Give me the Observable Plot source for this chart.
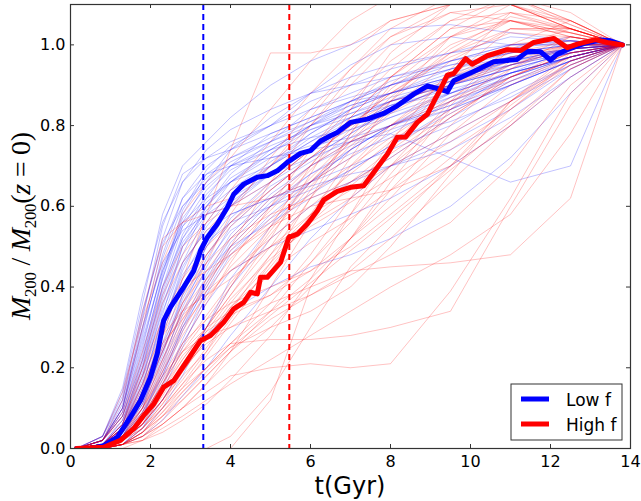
<!DOCTYPE html>
<html>
<head>
<meta charset="utf-8">
<script src="https://cdn.jsdelivr.net/npm/d3@7"></script>
<script src="https://cdn.jsdelivr.net/npm/@observablehq/plot@0.6"></script>
<style>
  html, body { margin: 0; padding: 0; background: #fff; }
  #chart { width: 641px; height: 501px; }
</style>
</head>
<body>
<div id="chart"></div>
<script>
// ---------- data ----------
const xTicks = [0, 2, 4, 6, 8, 10, 12, 14];
const yTicks = [0.0, 0.2, 0.4, 0.6, 0.8, 1.0];
const seriesNames = ["Low f", "High f"];
const seriesColors = ["blue", "red"];
const medianTimes = [3.32, 5.47]; // dashed verticals (Low f, High f)

// thick median curves
const lowMedT = [0.15,0.5,0.83,1.17,1.5,1.75,2.0,2.17,2.33,2.5,2.83,3.08,3.25,3.42,3.67,3.92,4.08,4.33,4.67,4.92,5.17,5.42,5.75,6.0,6.25,6.5,6.67,7.0,7.42,7.83,8.17,8.58,8.92,9.17,9.42,9.58,10.08,10.58,11.17,11.42,11.75,12.0,12.17,12.42,12.83,13.25,13.5,13.8];
const lowMedY = [0,0,0.007,0.028,0.078,0.119,0.177,0.235,0.317,0.35,0.40,0.44,0.49,0.523,0.556,0.597,0.63,0.655,0.672,0.676,0.688,0.709,0.731,0.738,0.762,0.775,0.783,0.808,0.816,0.830,0.849,0.878,0.898,0.892,0.884,0.911,0.934,0.958,0.964,0.984,0.983,0.962,0.977,0.988,1.003,1.012,1.01,1.0];
const highMedT = [0.15,0.83,1.25,1.58,1.83,2.08,2.33,2.58,2.92,3.25,3.5,3.83,4.08,4.33,4.5,4.67,4.75,4.92,5.25,5.46,5.67,5.92,6.17,6.33,6.67,7.0,7.33,7.67,7.92,8.17,8.38,8.67,8.92,9.12,9.25,9.42,9.58,9.88,10.04,10.42,10.92,11.25,11.58,12.08,12.42,12.67,13.12,13.42,13.8];
const highMedY = [0,0.003,0.02,0.049,0.082,0.11,0.152,0.168,0.218,0.267,0.28,0.313,0.346,0.362,0.387,0.383,0.424,0.424,0.461,0.523,0.531,0.556,0.589,0.616,0.637,0.647,0.651,0.696,0.729,0.771,0.772,0.808,0.828,0.866,0.89,0.925,0.929,0.966,0.952,0.973,0.988,0.986,1.006,1.016,0.993,1.002,1.013,1.006,1.0];

// thin individual histories, sampled at these times
const thinT = [0.15,0.8,1.3,1.8,2.3,2.8,3.4,4.0,5.0,6.0,7.0,8.0,9.5,11.0,12.5,13.8];
const lowRuns = [
  [0,0,.03,.12,.30,.45,.55,.62,.70,.76,.82,.86,.92,.96,.98,1],
  [0,.01,.06,.20,.40,.55,.64,.70,.74,.80,.85,.88,.93,.97,.99,1],
  [0,0,.02,.08,.20,.33,.45,.55,.64,.72,.78,.84,.90,.95,.98,1],
  [0,.02,.10,.28,.48,.62,.70,.74,.78,.82,.86,.90,.94,.97,.99,1],
  [0,0,.01,.05,.14,.25,.38,.48,.58,.66,.74,.80,.87,.93,.97,1],
  [0,.01,.05,.15,.33,.50,.58,.60,.66,.72,.78,.84,.90,.94,.98,1],
  [0,.03,.12,.33,.52,.66,.74,.79,.84,.88,.90,.92,.95,.98,1.0,1],
  [0,0,.02,.10,.25,.38,.50,.58,.62,.66,.70,.74,.80,.88,.95,1],
  [0,.01,.04,.14,.30,.44,.56,.64,.71,.78,.84,.90,.96,1.0,1.01,1],
  [0,0,.03,.09,.18,.30,.42,.52,.62,.70,.76,.80,.84,.90,.96,1],
  [0,.02,.08,.22,.42,.58,.68,.72,.76,.80,.83,.86,.90,.94,.98,1],
  [0,0,.01,.04,.10,.18,.30,.40,.52,.60,.66,.72,.82,.90,.96,1],
  [0,.01,.05,.18,.36,.48,.60,.68,.76,.84,.88,.92,.96,.99,1.01,1],
  [0,.02,.09,.25,.45,.56,.62,.66,.72,.75,.77,.80,.85,.92,.97,1],
  [0,0,.02,.07,.16,.26,.36,.44,.50,.54,.58,.62,.70,.80,.92,1],
  [0,.01,.07,.20,.38,.52,.62,.70,.78,.82,.86,.88,.92,.95,.99,1],
  [0,.03,.15,.38,.56,.66,.72,.76,.80,.86,.90,.94,.98,1.02,1.01,1],
  [0,0,.03,.12,.26,.40,.52,.60,.68,.74,.80,.85,.88,.93,.97,1],
  [0,.01,.04,.12,.24,.36,.46,.54,.60,.66,.72,.78,.86,.92,.97,1],
  [0,0,.02,.06,.12,.20,.30,.42,.55,.66,.74,.80,.86,.91,.96,1],
  [0,.02,.10,.30,.50,.62,.68,.70,.72,.74,.76,.78,.72,.66,.70,1],
  [0,.01,.06,.18,.34,.46,.54,.58,.62,.65,.68,.70,.74,.82,.92,1],
  [0,0,.01,.05,.12,.20,.28,.34,.40,.45,.48,.52,.60,.72,.88,1],
  [0,.02,.08,.24,.42,.56,.66,.74,.82,.88,.92,.95,.98,1.0,1.0,1],
  [0,.01,.03,.10,.22,.34,.44,.50,.56,.62,.66,.70,.76,.84,.94,1],
  [0,0,.02,.08,.18,.30,.40,.50,.60,.68,.74,.80,.88,.95,.99,1],
  [0,.01,.05,.16,.32,.46,.58,.66,.74,.80,.84,.88,.92,.97,.99,1],
  [0,.02,.12,.30,.46,.54,.58,.62,.68,.72,.76,.80,.85,.90,.96,1],
  [0,0,.01,.03,.07,.13,.20,.28,.40,.52,.62,.70,.78,.86,.94,1],
  [0,.01,.06,.22,.40,.52,.60,.66,.70,.78,.84,.88,.94,.99,1.02,1],
  [0,.03,.14,.36,.58,.70,.76,.82,.90,.96,1.0,1.04,1.05,1.03,1.01,1],
  [0,.02,.10,.32,.55,.68,.72,.74,.80,.88,.95,1.0,1.02,1.0,1.0,1],
  [0,.01,.05,.17,.35,.50,.60,.67,.73,.79,.83,.87,.91,.95,.98,1],
  [0,.02,.09,.26,.44,.57,.65,.70,.75,.79,.82,.85,.89,.93,.97,1],
  [0,0,.03,.11,.24,.37,.48,.56,.65,.71,.77,.82,.88,.93,.97,1],
  [0,.01,.06,.19,.37,.51,.59,.64,.70,.76,.81,.86,.91,.96,.99,1],
  [0,.02,.11,.29,.47,.60,.67,.72,.77,.81,.85,.88,.92,.96,.99,1],
  [0,0,.02,.09,.21,.35,.47,.57,.66,.74,.80,.85,.91,.96,.99,1],
  [0,.01,.04,.13,.28,.42,.53,.61,.68,.74,.79,.83,.88,.93,.97,1],
  [0,.03,.13,.34,.51,.60,.66,.71,.76,.81,.86,.90,.95,.98,1.0,1],
  [0,0,.02,.08,.19,.31,.43,.53,.63,.70,.75,.79,.84,.90,.96,1],
  [0,.01,.07,.21,.39,.53,.63,.69,.74,.77,.79,.82,.87,.92,.97,1],
  [0,.02,.08,.23,.43,.59,.69,.75,.80,.84,.87,.90,.94,.98,1.0,1],
  [0,0,.01,.06,.15,.27,.39,.49,.57,.63,.69,.75,.83,.91,.97,1],
  [0,.01,.05,.16,.31,.43,.51,.56,.60,.64,.69,.75,.84,.93,.99,1],
  [0,.02,.10,.27,.44,.55,.61,.66,.73,.80,.86,.91,.96,1.0,1.01,1],
  [0,0,.02,.07,.17,.29,.41,.51,.61,.68,.73,.77,.81,.87,.95,1],
  [0,.01,.04,.11,.23,.38,.50,.60,.70,.77,.82,.86,.90,.94,.98,1]
];
const highRuns = [
  [0,0,.02,.06,.12,.20,.28,.36,.48,.58,.66,.74,.84,.92,.98,1],
  [0,0,.01,.03,.08,.14,.20,.26,.34,.42,.52,.62,.78,.90,.97,1],
  [0,.01,.05,.16,.30,.40,.48,.55,.64,.72,.80,.88,.98,1.04,1.03,1],
  [0,0,.02,.08,.18,.26,.32,.36,.40,.44,.50,.58,.70,.84,.96,1],
  [0,.02,.10,.30,.50,.56,.60,.62,.70,.80,.90,1.0,1.08,1.1,1.05,1],
  [0,0,0,.02,.06,.10,.16,.22,.30,.40,.52,.66,.84,.96,1.02,1],
  [0,.01,.04,.12,.22,.32,.42,.50,.60,.70,.82,.92,1.04,1.12,1.08,1],
  [0,0,.01,.04,.10,.16,.22,.26,.27,.27,.28,.30,.34,.60,.85,1],
  [0,0,.01,.03,.06,.10,.14,.18,.20,.21,.20,.21,.39,.62,.88,1],
  [0,0,0,0,0,0,0,.03,.14,.30,.45,.55,.70,.86,.97,1],
  [0,0,0,0,0,0,0,0,.12,.40,.52,.60,.72,.85,.96,1],
  [0,.01,.06,.20,.36,.46,.54,.60,.70,.82,.94,1.04,1.12,1.12,1.05,1],
  [0,0,.02,.08,.16,.24,.32,.40,.54,.66,.76,.84,.92,.98,1.01,1],
  [0,.02,.12,.34,.52,.56,.58,.60,.62,.66,.72,.80,.90,.96,1.0,1],
  [0,0,.01,.04,.08,.12,.18,.24,.34,.46,.58,.70,.86,1.0,1.06,1],
  [0,.01,.03,.10,.20,.30,.38,.44,.52,.60,.68,.76,.86,.94,1.0,1],
  [0,0,.02,.06,.14,.22,.30,.38,.50,.64,.78,.90,1.02,1.08,1.04,1],
  [0,.02,.08,.22,.38,.48,.56,.64,.76,.88,.98,1.06,1.1,1.1,1.04,1],
  [0,0,.01,.02,.05,.08,.12,.16,.22,.28,.34,.40,.48,.58,.78,1],
  [0,0,.02,.07,.14,.20,.26,.30,.36,.40,.44,.45,.46,.48,.62,1],
  [0,.01,.05,.14,.26,.36,.44,.52,.62,.70,.76,.80,.86,.92,.98,1],
  [0,0,.01,.05,.10,.16,.24,.34,.48,.62,.74,.84,.96,1.04,1.04,1],
  [0,.01,.04,.10,.18,.24,.28,.30,.34,.38,.44,.52,.66,.80,.94,1],
  [0,0,.03,.10,.22,.34,.46,.58,.72,.84,.94,1.02,1.08,1.06,1.02,1],
  [0,.02,.07,.18,.28,.34,.38,.42,.50,.58,.64,.70,.78,.86,.95,1],
  [0,0,.01,.03,.06,.10,.16,.24,.40,.56,.70,.80,.92,1.0,1.02,1],
  [0,.01,.06,.16,.26,.32,.40,.50,.66,.80,.92,1.02,1.1,1.12,1.06,1],
  [0,0,.02,.05,.10,.15,.20,.25,.30,.34,.40,.50,.68,.86,.98,1],
  [0,.01,.04,.12,.24,.36,.48,.56,.66,.74,.80,.86,.90,.95,.99,1],
  [0,0,.02,.08,.16,.24,.30,.34,.38,.44,.52,.64,.80,.94,1.02,1],
  [0,.03,.14,.32,.46,.58,.66,.72,.84,.96,1.06,1.12,1.12,1.1,1.04,1],
  [0,0,.01,.04,.09,.14,.20,.26,.36,.48,.62,.76,.94,1.08,1.06,1],
  [0,.01,.05,.13,.24,.34,.42,.48,.55,.60,.62,.64,.70,.80,.92,1],
  [0,0,.02,.06,.12,.18,.24,.32,.46,.62,.78,.92,1.04,1.06,1.03,1],
  [0,.01,.03,.08,.15,.22,.30,.38,.52,.68,.84,.98,1.1,1.1,1.04,1],
  [0,.01,.04,.14,.28,.42,.58,.74,.98,.98,1.0,1.06,1.1,1.1,1.04,1],
  [0,0,.01,.05,.11,.19,.27,.35,.46,.56,.65,.73,.83,.91,.97,1],
  [0,.01,.03,.09,.17,.25,.33,.41,.53,.65,.75,.83,.91,.97,1.0,1],
  [0,0,.02,.07,.15,.23,.29,.33,.38,.46,.56,.68,.85,.99,1.04,1],
  [0,.01,.05,.15,.28,.38,.46,.52,.58,.62,.66,.72,.82,.92,.98,1],
  [0,0,.01,.04,.09,.15,.23,.31,.44,.58,.72,.86,1.02,1.1,1.06,1],
  [0,.02,.09,.24,.40,.50,.56,.60,.66,.74,.84,.94,1.06,1.12,1.06,1],
  [0,0,.02,.06,.13,.21,.29,.37,.47,.55,.61,.67,.76,.86,.96,1],
  [0,.01,.04,.11,.21,.31,.41,.49,.59,.69,.79,.89,1.0,1.06,1.03,1],
  [0,0,.01,.03,.07,.12,.18,.24,.32,.38,.43,.48,.56,.70,.90,1],
  [0,.01,.06,.18,.32,.42,.50,.56,.64,.72,.80,.88,.97,1.03,1.02,1],
  [0,0,.02,.05,.11,.17,.25,.33,.45,.57,.69,.79,.90,.97,1.0,1],
  [0,.01,.03,.08,.16,.26,.36,.46,.60,.74,.86,.96,1.06,1.08,1.03,1],
  [0,0,.01,.04,.08,.13,.19,.25,.33,.41,.49,.57,.69,.81,.94,1],
  [0,.02,.08,.20,.32,.40,.44,.48,.56,.66,.76,.86,.98,1.06,1.04,1],
  [0,0,.02,.06,.12,.19,.27,.35,.44,.51,.57,.64,.74,.84,.95,1],
  [0,.01,.05,.14,.25,.33,.39,.44,.50,.56,.62,.70,.82,.92,.99,1],
  [0,0,.01,.02,.04,.07,.11,.17,.28,.42,.58,.74,.92,1.04,1.04,1],
  [0,.01,.04,.10,.19,.28,.37,.45,.55,.63,.70,.77,.87,.95,1.0,1],
  [0,0,.03,.09,.19,.29,.39,.47,.57,.67,.77,.87,.99,1.07,1.04,1],
  [0,.01,.02,.06,.12,.20,.30,.40,.55,.70,.82,.92,1.02,1.06,1.02,1]
];

// ---------- build tables ----------
function runsToRows(runs, prefix) {
  const rows = [];
  runs.forEach((r, i) => r.forEach((v, j) => rows.push({id: prefix + i, t: thinT[j], v})));
  return rows;
}
const lowRows = runsToRows(lowRuns, "L");
const highRows = runsToRows(highRuns, "H");
const lowMed = lowMedT.map((t, i) => ({t, v: lowMedY[i]}));
const highMed = highMedT.map((t, i) => ({t, v: highMedY[i]}));

const W = 641, H = 501, mL = 70, mR = 11, mT = 4, mB = 53;
const pw = W - mL - mR, ph = H - mT - mB;

const chart = Plot.plot({
  width: W, height: H,
  marginLeft: mL, marginRight: mR, marginTop: mT, marginBottom: mB,
  style: {fontFamily: "DejaVu Sans", fontSize: "16px", color: "black", background: "white"},
  x: {domain: [0, 14]},
  y: {domain: [0, 1.1]},
  marks: [
    Plot.line(lowRows, {x: "t", y: "v", z: "id", stroke: seriesColors[0], strokeOpacity: 0.3, strokeWidth: 0.8, clip: true}),
    Plot.line(highRows, {x: "t", y: "v", z: "id", stroke: seriesColors[1], strokeOpacity: 0.3, strokeWidth: 0.8, clip: true}),
    Plot.ruleX([medianTimes[0]], {stroke: seriesColors[0], strokeWidth: 2, strokeDasharray: "6,4"}),
    Plot.ruleX([medianTimes[1]], {stroke: seriesColors[1], strokeWidth: 2, strokeDasharray: "6,4"}),
    Plot.line(lowMed, {x: "t", y: "v", stroke: seriesColors[0], strokeWidth: 5, clip: true}),
    Plot.line(highMed, {x: "t", y: "v", stroke: seriesColors[1], strokeWidth: 5, clip: true}),
    // inward ticks on all four sides
    Plot.tickX(xTicks, {x: d => d, insetTop: ph - 4, stroke: "#333"}),
    Plot.tickX(xTicks, {x: d => d, insetBottom: ph - 4, stroke: "#333"}),
    Plot.tickY(yTicks, {y: d => d, insetRight: pw - 4, stroke: "#333"}),
    Plot.tickY(yTicks, {y: d => d, insetLeft: pw - 4, stroke: "#333"}),
    Plot.axisX(xTicks, {tickSize: 0, tickPadding: 7, label: null, tickFormat: d3.format("d")}),
    Plot.axisY(yTicks, {tickSize: 0, tickPadding: 5, label: null, tickFormat: d3.format(".1f")}),
    Plot.frame({stroke: "#333", strokeWidth: 1.2})
  ]
});
document.getElementById("chart").appendChild(chart);

// ---------- axis titles & legend ----------
const svg = d3.select(chart);
svg.append("text")
  .attr("x", mL + pw / 2).attr("y", H - 7)
  .attr("text-anchor", "middle")
  .style("font-family", "DejaVu Sans").style("font-size", "24px")
  .text("t(Gyr)");

const yl = svg.append("text")
  .attr("transform", `translate(30,${mT + ph / 2}) rotate(-90)`)
  .attr("text-anchor", "middle")
  .attr("textLength", 188).attr("lengthAdjust", "spacing")
  .style("font-family", "Liberation Serif").style("font-size", "28px");
const parts = [
  ["M", "italic", 0], ["200", "normal", 1], [" / ", "normal", -1], ["M", "italic", 0],
  ["200", "normal", 1], ["(", "normal", -1], ["z", "italic", 0], [" = ", "normal", 0],
  ["0", "normal", 0], [")", "normal", 0]
];
parts.forEach(([txt, st, sub]) => {
  const ts = yl.append("tspan").style("font-style", st).text(txt);
  if (sub === 1) ts.attr("dy", 6).style("font-size", "17px");
  if (sub === -1) ts.attr("dy", -6);
});

const lg = svg.append("g").attr("text-anchor", "start");
lg.append("rect").attr("x", 511).attr("y", 384).attr("width", 111).attr("height", 56)
  .attr("fill", "white").attr("stroke", "#333").attr("stroke-width", 1);
seriesNames.forEach((name, i) => {
  const yy = 399 + i * 25;
  lg.append("line").attr("x1", 521).attr("x2", 549).attr("y1", yy).attr("y2", yy)
    .attr("stroke", seriesColors[i]).attr("stroke-width", 5);
  lg.append("text").attr("x", 566).attr("y", yy + 6.5).attr("text-anchor", "start")
    .style("font-family", "DejaVu Sans").style("font-size", "17px").text(name);
});
</script>
</body>
</html>
